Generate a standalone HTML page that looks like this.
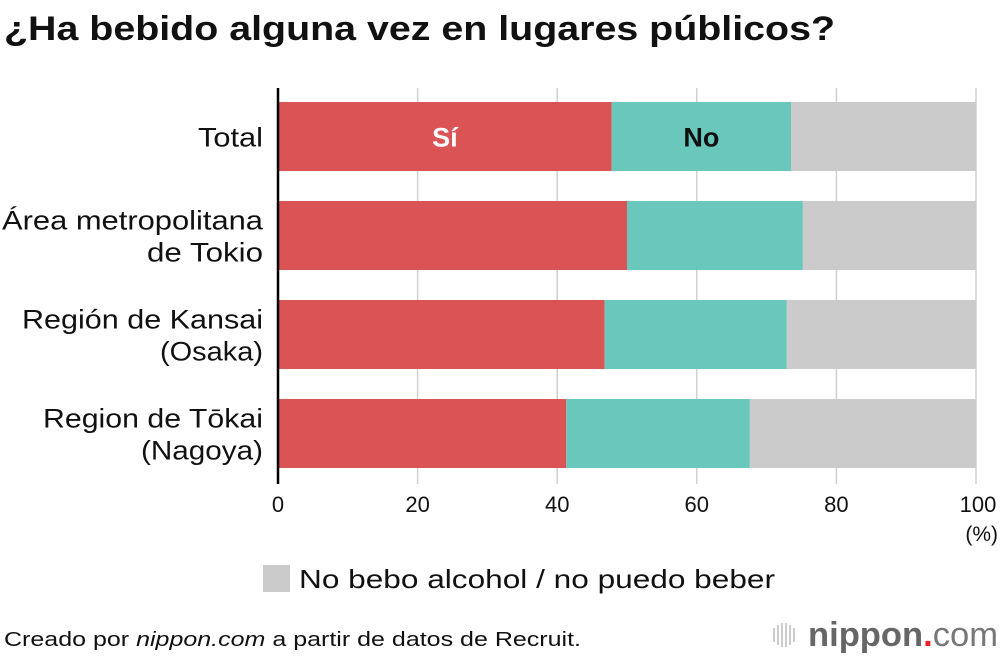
<!DOCTYPE html>
<html><head><meta charset="utf-8"><style>
body{margin:0;background:#fff;font-family:"Liberation Sans",Arial,sans-serif}
svg text{font-family:"Liberation Sans",Arial,sans-serif}
</style></head><body>
<svg id="chart" width="1000" height="660" xmlns="http://www.w3.org/2000/svg">
<text x="4" y="40" font-size="34" font-weight="bold" fill="#111" textLength="831" lengthAdjust="spacingAndGlyphs">¿Ha bebido alguna vez en lugares públicos?</text>
<g id="grid"></g>
<g id="bars"></g>
<g id="labels"></g>
<line x1="278" y1="88" x2="278" y2="484" stroke="#000" stroke-width="2.5"/>
<text x="998" y="541" font-size="21" text-anchor="end" fill="#111">(%)</text>
<rect x="263" y="565" width="27" height="27" fill="#cbcbcb"/>
<text x="299" y="588" font-size="26" fill="#111" textLength="476" lengthAdjust="spacingAndGlyphs">No bebo alcohol / no puedo beber</text>
<text x="4" y="646" font-size="20" fill="#111" textLength="577" lengthAdjust="spacingAndGlyphs">Creado por <tspan font-style="italic">nippon.com</tspan> a partir de datos de Recruit.</text>
<g>
<g stroke="#bbb" stroke-width="1.5">
<line x1="774" y1="628" x2="774" y2="642"/><line x1="778" y1="625" x2="778" y2="645"/><line x1="782" y1="623" x2="782" y2="647"/><line x1="786" y1="623" x2="786" y2="647"/><line x1="790" y1="625" x2="790" y2="645"/><line x1="794" y1="628" x2="794" y2="642"/>
</g>
<text x="808" y="646" font-size="34" fill="#666" font-weight="bold" textLength="190" lengthAdjust="spacingAndGlyphs">nippon<tspan fill="#e8202a">.</tspan><tspan font-weight="normal" fill="#777">com</tspan></text>
</g>
</svg>
<script>
const categories = ["Total", "Área metropolitana|de Tokio", "Región de Kansai|(Osaka)", "Region de Tōkai|(Nagoya)"];
const siValues = [47.8, 50.0, 46.8, 41.3];
const noValues = [25.7, 25.2, 26.1, 26.3];
const ticks = [0, 20, 40, 60, 80, 100];
const labelWidths = [[65], [261, 116], [241, 103], [220, 122]];
const NS = "http://www.w3.org/2000/svg";
const x0 = 278, x1 = 976;
function xs(v){ return x0 + (x1 - x0) * v / 100; }
function yb(i){ return 102 + i * 99; }
const barH = 69;
function mk(tag, attrs, parent){ const e = document.createElementNS(NS, tag); for (const k in attrs) e.setAttribute(k, attrs[k]); parent.appendChild(e); return e; }
const grid = document.getElementById('grid'), bars = document.getElementById('bars'), labels = document.getElementById('labels');
ticks.forEach(t => {
  const l = mk('line', {x1: xs(t), x2: xs(t), y1: 88, y2: 484, stroke: '#d0d0d0', 'stroke-width': 1.5}, grid);
  
  
  const tx = mk('text', {x: xs(t), y: 512, 'font-size': 22, 'text-anchor': 'middle', fill: '#111'}, labels);
  if (t === 100) tx.setAttribute('x', xs(t) + 2);
  tx.textContent = t;
  
  
});
categories.forEach((c, i) => {
  const y = yb(i);
  const s = siValues[i], n = noValues[i];
  const r1 = mk('rect', {x: xs(0), y: y, width: xs(s) - xs(0), height: barH, fill: '#da5456'}, bars);
  
  
  const r2 = mk('rect', {x: xs(s), y: y, width: xs(s + n) - xs(s), height: barH, fill: '#69c7bb'}, bars);
  
  
  const r3 = mk('rect', {x: xs(s + n), y: y, width: xs(100) - xs(s + n), height: barH, fill: '#cbcbcb'}, bars);
  
  
  const parts = c.split('|');
  parts.forEach((p, j) => {
    const cy = y + barH / 2 + 10 + (parts.length === 2 ? (j === 0 ? -16 : 16) : 0);
    const t = mk('text', {x: 263, y: cy, 'font-size': 27, 'text-anchor': 'end', fill: '#111', textLength: labelWidths[i][j], lengthAdjust: 'spacingAndGlyphs'}, labels);
    t.textContent = p;
    
    
  });
  if (i === 0) {
    const a = mk('text', {x: (xs(0) + xs(s)) / 2, y: y + barH / 2 + 10, 'font-size': 27, 'font-weight': 'bold', 'text-anchor': 'middle', fill: '#fff'}, labels);
    a.textContent = 'Sí';
    
    
    const b = mk('text', {x: (xs(s) + xs(s + n)) / 2, y: y + barH / 2 + 10, 'font-size': 27, 'font-weight': 'bold', 'text-anchor': 'middle', fill: '#111'}, labels);
    b.textContent = 'No';
    
    
  }
});
</script>
</body></html>
